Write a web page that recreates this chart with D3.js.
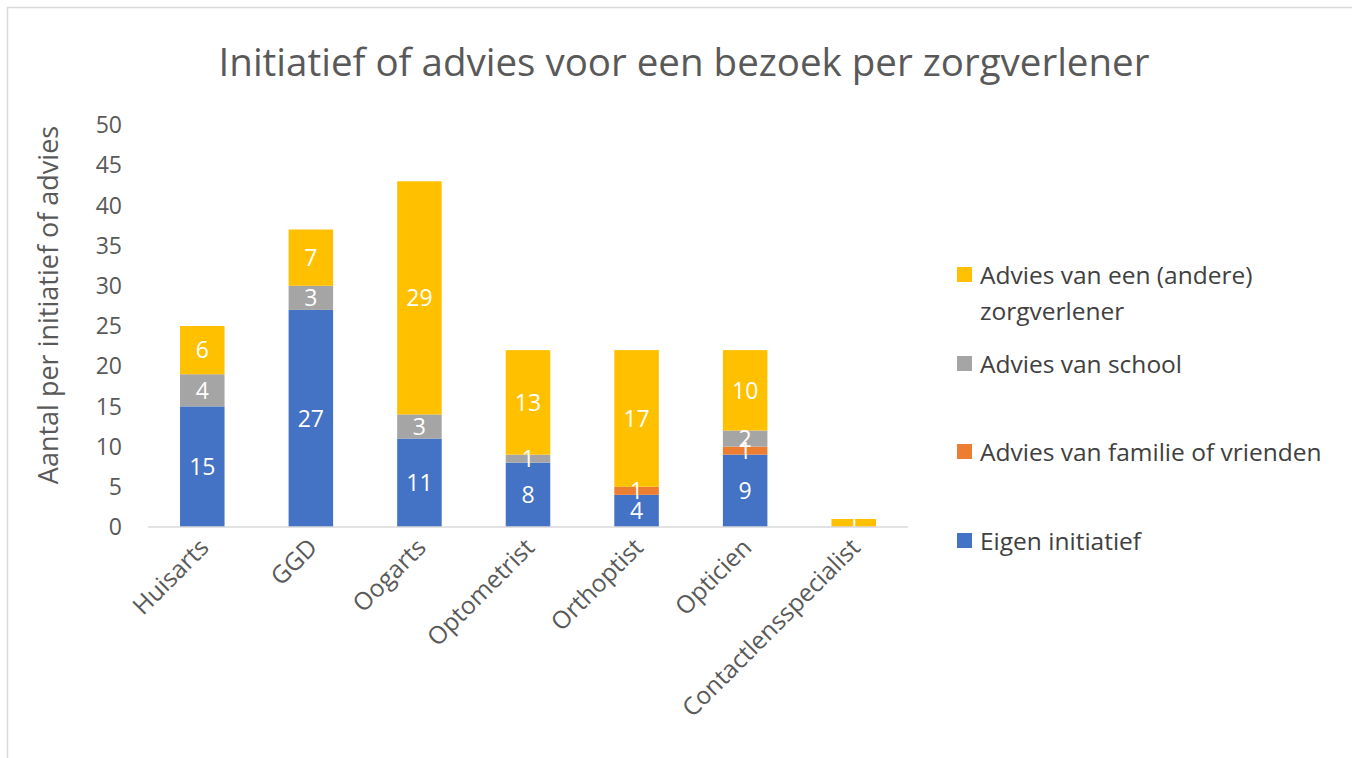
<!DOCTYPE html>
<html lang="nl">
<head>
<meta charset="UTF-8">
<title>Initiatief of advies</title>
<script src="https://d3js.org/d3.v7.min.js"></script>
<style>
  body { margin: 0; background: #fff; }
  text { font-family: "Open Sans", "Noto Sans", sans-serif; }
</style>
</head>
<body>
<div id="chart"></div>
<script>
// data
const categories = ["Huisarts", "GGD", "Oogarts", "Optometrist", "Orthoptist", "Opticien", "Contactlensspecialist"];
const eigenInitiatief = [15, 27, 11, 8, 4, 9, 0];
const adviesFamilie = [0, 0, 0, 0, 1, 1, 0];
const adviesSchool = [4, 3, 3, 1, 0, 2, 0];
const adviesZorgverlener = [6, 7, 29, 13, 17, 10, 1];
const yTicks = [0, 5, 10, 15, 20, 25, 30, 35, 40, 45, 50];

const series = [
  { name: "Eigen initiatief", values: eigenInitiatief, color: "#4472C4" },
  { name: "Advies van familie of vrienden", values: adviesFamilie, color: "#ED7D31" },
  { name: "Advies van school", values: adviesSchool, color: "#A5A5A5" },
  { name: "Advies van een (andere) zorgverlener", values: adviesZorgverlener, color: "#FFC000" }
];

const width = 1352, height = 758;
const svg = d3.select("#chart").append("svg")
  .attr("width", width).attr("height", height);

// chart frame (runs off right/bottom)
svg.append("rect")
  .attr("x", 7.5).attr("y", 7.5)
  .attr("width", width + 20).attr("height", height + 20)
  .attr("fill", "none").attr("stroke", "#D9D9D9").attr("stroke-width", 1.5);

svg.append("text")
  .attr("x", 684).attr("y", 76)
  .attr("text-anchor", "middle")
  .attr("font-size", 38.5)
  .attr("fill", "#595959")
  .text("Initiatief of advies voor een bezoek per zorgverlener");

const x = d3.scaleBand().domain(categories).range([148, 908]).paddingInner(0.59).paddingOuter(0.295);
const y = d3.scaleLinear().domain([0, 50]).range([527, 125]);

// stacked data
const rows = categories.map((c, i) => {
  const r = { cat: c };
  series.forEach(s => r[s.name] = s.values[i]);
  return r;
});
const stack = d3.stack().keys(series.map(s => s.name))(rows);

const g = svg.append("g");
stack.forEach((layer, li) => {
  const s = series[li];
  g.selectAll(null).data(layer).enter().append("rect")
    .attr("x", d => x(d.data.cat))
    .attr("width", x.bandwidth())
    .attr("y", d => y(d[1]))
    .attr("height", d => y(d[0]) - y(d[1]))
    .attr("fill", s.color);
});

// x axis line
svg.append("line")
  .attr("x1", 148).attr("x2", 908)
  .attr("y1", y(0)).attr("y2", y(0))
  .attr("stroke", "#D9D9D9").attr("stroke-width", 1.5);

// data labels
stack.forEach((layer, li) => {
  g.selectAll(null).data(layer.filter(d => d[1] - d[0] > 0)).enter().append("text")
    .attr("x", d => x(d.data.cat) + x.bandwidth() / 2)
    .attr("y", d => (y(d[0]) + y(d[1])) / 2)
    .attr("dy", "0.36em")
    .attr("text-anchor", "middle")
    .attr("font-size", 23)
    .attr("fill", "#fff")
    .text(d => d[1] - d[0]);
});

// y axis labels
svg.selectAll(".ytick").data(yTicks).enter().append("text")
  .attr("x", 122).attr("y", d => y(d))
  .attr("dy", "0.36em")
  .attr("text-anchor", "end")
  .attr("font-size", 23)
  .attr("fill", "#595959")
  .text(d => d);

svg.append("text")
  .attr("transform", "translate(58,305) rotate(-90)")
  .attr("text-anchor", "middle")
  .attr("font-size", 27)
  .attr("fill", "#595959")
  .text("Aantal per initiatief of advies");

// x axis labels
svg.selectAll(".xtick").data(categories).enter().append("text")
  .attr("transform", d => `translate(${x(d) + x.bandwidth() / 2 + 8},${y(0) + 22}) rotate(-45)`)
  .attr("text-anchor", "end")
  .attr("font-size", 24.5)
  .attr("fill", "#595959")
  .text(d => d);

// legend
const legend = [
  { s: series[3], lines: ["Advies van een (andere)", "zorgverlener"], y: 275 },
  { s: series[2], lines: ["Advies van school"], y: 364 },
  { s: series[1], lines: ["Advies van familie of vrienden"], y: 452 },
  { s: series[0], lines: ["Eigen initiatief"], y: 541 }
];
const lg = svg.selectAll(".leg").data(legend).enter().append("g");
lg.append("rect")
  .attr("x", 957).attr("y", d => d.y - 8)
  .attr("width", 15).attr("height", 15)
  .attr("fill", d => d.s.color);
lg.each(function(d) {
  d.lines.forEach((t, i) => {
    d3.select(this).append("text")
      .attr("x", 980).attr("y", d.y + i * 36)
      .attr("dy", "0.36em")
      .attr("font-size", 24.5)
      .attr("fill", "#404040")
      .text(t);
  });
});
</script>
</body>
</html>
